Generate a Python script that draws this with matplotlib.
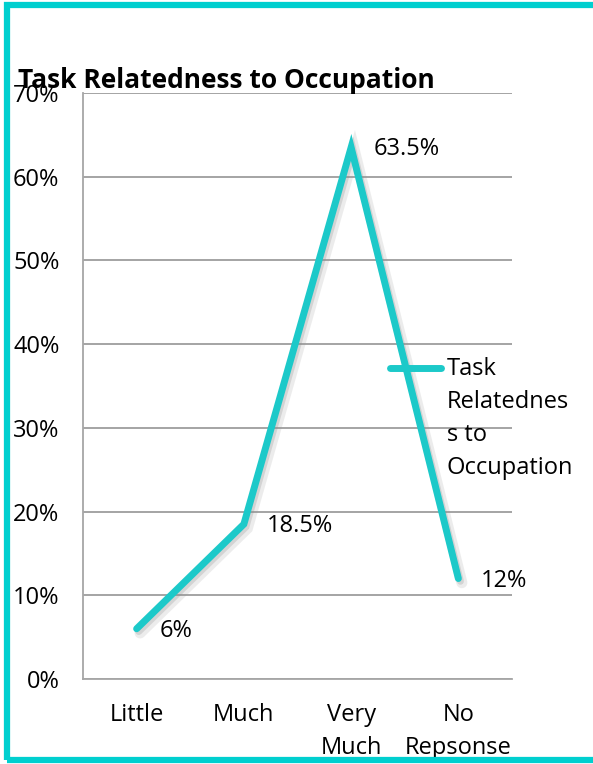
import matplotlib
matplotlib.use("Agg")
import matplotlib.pyplot as plt
import matplotlib.patheffects as pe
from matplotlib.lines import Line2D
from matplotlib.patches import Rectangle
from matplotlib.ticker import PercentFormatter

plt.rcParams['font.family'] = ['Open Sans', 'DejaVu Sans']

categories = ['Little', 'Much', 'Very\nMuch', 'No\nRepsonse']
shares = [6, 18.5, 63.5, 12]
value_labels = ['6%', '18.5%', '63.5%', '12%']
series_name = 'Task Relatedness to Occupation'
yticks = [0, 10, 20, 30, 40, 50, 60, 70]

teal = '#1CC9C9'
grid = '#8C8C8C'
W, H = 593, 764
fs = 17

fig = plt.figure(figsize=[W/100, H/100], dpi=100)
ax = fig.add_axes([83/W, 1-679/H, (512-83)/W, (679-93)/H])

xs = list(range(len(categories)))
shadow = [pe.SimpleLineShadow(offset=(2.5, -3), shadow_color='#9a9a9a', alpha=0.18, linewidth=8),
          pe.SimpleLineShadow(offset=(1.5, -2), shadow_color='#8a8a8a', alpha=0.25),
          pe.Normal()]
ax.plot(xs, shares, color=teal, lw=5, solid_capstyle='round', solid_joinstyle='miter',
        path_effects=shadow, zorder=3)

for x, v, t in zip(xs, shares, value_labels):
    ax.annotate(t, (x, v), xytext=(16.5, -1.5), textcoords='offset points',
                ha='left', va='center', fontsize=fs, zorder=4)

ax.set_xlim(-0.5, 3.5)
ax.set_ylim(0, 70)
ax.set_yticks(yticks)
ax.yaxis.set_major_formatter(PercentFormatter(decimals=0))
ax.set_xticks(xs)
ax.set_xticklabels(categories, linespacing=1.5)
ax.tick_params(axis='y', length=0, pad=17, labelsize=fs)
ax.tick_params(axis='x', length=0, pad=17, labelsize=fs)
for lab in ax.get_xticklabels():
    lab.set_verticalalignment('top')
ax.grid(axis='y', color=grid, lw=1.1)
ax.set_axisbelow(True)
for s in ['top', 'right']:
    ax.spines[s].set_visible(False)
for s in ['left', 'bottom']:
    ax.spines[s].set_color('#A6A6A6')
    ax.spines[s].set_linewidth(1.3)

# legend entry, wrapped like the original
fig.add_artist(Line2D([390/W, 441/W], [1-368/H, 1-368/H], color=teal, lw=5,
                      solid_capstyle='round'))
fig.text(447/W, 1-357/H, 'Task\nRelatednes\ns to\nOccupation', ha='left', va='top',
         fontsize=fs, linespacing=1.5)

fig.text(18/W, 1-80/H, series_name, ha='left', va='center', fontsize=19,
         fontweight='bold')

# frame around the chart (right edge falls outside the canvas)
fig.add_artist(Rectangle((7/W, 1-760/H), 1.2, (760-5)/H, transform=fig.transFigure,
                         fill=False, edgecolor='#00CFCF', lw=4.5, clip_on=False))

fig.savefig('out.png', dpi=100)
